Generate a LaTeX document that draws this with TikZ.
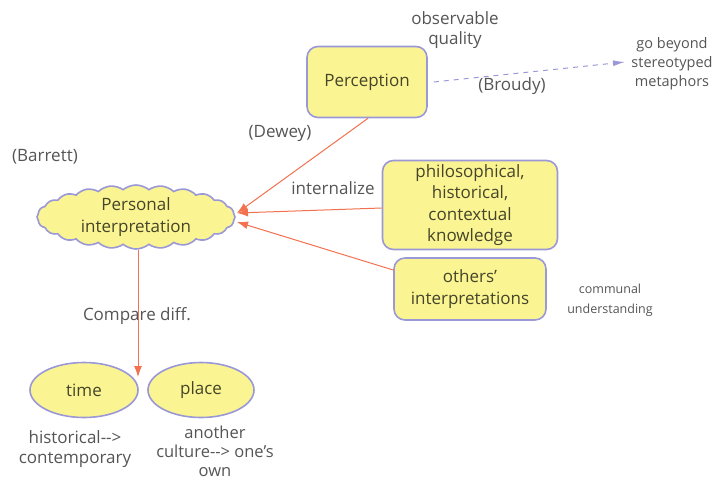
\documentclass[tikz,border=0pt]{standalone}
\usepackage{fontspec}
\setmainfont{Open Sans}
\usetikzlibrary{shapes.geometric,shapes.symbols,arrows.meta}
\definecolor{fillY}{HTML}{FBF493}
\definecolor{edgeL}{HTML}{9A98D6}
\definecolor{arrR}{HTML}{F2714E}
\definecolor{txtN}{HTML}{45452A}
\definecolor{txtL}{HTML}{555555}
\newcommand{\sq}{{\char"27}}
\tikzset{
  box/.style={draw=edgeL, line width=1.6pt, fill=fillY, rounded corners=11pt, text=txtN, align=center, font=\fontsize{17}{21.5}\selectfont, inner sep=0pt},
  oval/.style={draw=edgeL, line width=1.6pt, fill=fillY, ellipse, text=txtN, font=\fontsize{17}{21}\selectfont, inner sep=0pt},
  lbl/.style={text=txtL, align=center, font=\fontsize{17}{20}\selectfont, inner sep=0pt},
  rarr/.style={draw=arrR, line width=1pt, -{Latex[length=11pt,width=8pt]}},
  darr/.style={draw=edgeL, line width=1pt, dashed, dash pattern=on 5pt off 5pt, -{Latex[length=12pt,width=6pt]}}
}
\begin{document}
\begin{tikzpicture}[x=1pt,y=-1pt]
\useasboundingbox (0,0) rectangle (727,480);
\node[box, minimum width=120, minimum height=71] (perc) at (367,82) {Perception};
\node[box, minimum width=175, minimum height=89] (phil) at (470,205) {philosophical,\\historical,\\contextual\\knowledge};
\node[box, minimum width=152, minimum height=62] (oth) at (470,289) {others\sq\\interpretations};
\node[cloud, cloud puffs=24, cloud puff arc=80, aspect=3.2, draw=edgeL, line width=1.6pt, fill=fillY, text=txtN, align=center, font=\fontsize{17}{22}\selectfont, inner sep=0pt, minimum width=198, minimum height=64] (pers) at (136,217) {Personal\\interpretation};
\node[oval, minimum width=108, minimum height=55] (time) at (84,390) {time};
\node[oval, minimum width=106, minimum height=55] (place) at (201,390) {place};
\coordinate (meet) at (138,377);
\node[lbl] (obs) at (455,30) {observable\\quality};
\node[lbl, font=\fontsize{14.5}{19}\selectfont] (beyond) at (672,64) {go beyond\\stereotyped\\metaphors};
\node[lbl] (broudy) at (512,86) {(Broudy)};
\node[lbl] (dewey) at (280,133) {(Dewey)};
\node[lbl] (barrett) at (45,157) {(Barrett)};
\node[lbl] (intern) at (333,188) {internalize};
\node[lbl, font=\fontsize{12.5}{20}\selectfont] (comm) at (610,300) {communal\\understanding};
\node[lbl] (cmp) at (137,316) {Compare diff.};
\node[lbl] (hist) at (75,449) {historical-{}->\\contemporary};
\node[lbl, font=\fontsize{16.5}{19}\selectfont] (cult) at (215,451) {another\\culture-{}-> one\sq s\\own};
\coordinate (tipA) at (237,213);
\coordinate (tipB) at (237,222);
\coordinate (go) at (625,62);
\draw[rarr] (perc.south) ++(1,0) -- (tipA);
\draw[rarr] (phil.west) ++(0,3) -- (tipA);
\draw[rarr] (oth.west) ++(0,-19) -- (tipB);
\draw[rarr] (pers.south) ++(2,0) -- (meet);
\draw[darr] (perc.east) ++(6,0) -- (go);
\end{tikzpicture}
\end{document}
